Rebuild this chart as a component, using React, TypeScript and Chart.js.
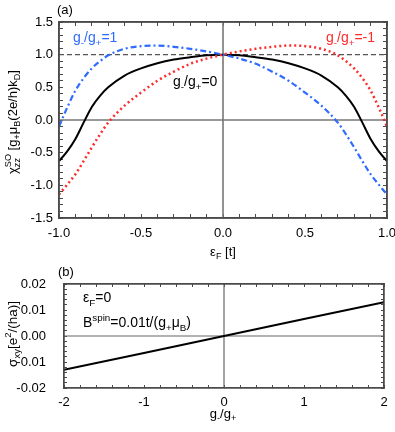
import React, { useEffect, useRef } from 'react';
import { Chart, registerables } from 'chart.js';
Chart.register(...registerables);

const FONT = '"Liberation Sans", Arial, Helvetica, sans-serif';

// ---- panel (a) data ----
const epsF = [-1, -0.95, -0.9, -0.85, -0.8, -0.75, -0.7, -0.6, -0.5, -0.4, -0.3, -0.2, -0.1, 0,
  0.1, 0.2, 0.3, 0.4, 0.5, 0.6, 0.7, 0.75, 0.8, 0.85, 0.9, 0.95, 1];
const chiRatio0 = [-0.63, -0.48, -0.29, -0.04, 0.2, 0.37, 0.5, 0.68, 0.79, 0.87, 0.925, 0.96, 0.99, 1.0,
  0.99, 0.96, 0.925, 0.87, 0.79, 0.68, 0.5, 0.37, 0.2, -0.04, -0.29, -0.48, -0.63];
const chiRatioP1 = [-0.1, 0.19, 0.45, 0.64, 0.79, 0.9, 0.99, 1.09, 1.13, 1.14, 1.12, 1.09, 1.05, 1.0,
  0.94, 0.86, 0.74, 0.6, 0.42, 0.22, -0.04, -0.22, -0.42, -0.63, -0.83, -0.99, -1.14];
const chiRatioM1 = [-1.14, -0.99, -0.83, -0.63, -0.42, -0.22, -0.04, 0.22, 0.42, 0.6, 0.74, 0.86, 0.94, 1.0,
  1.05, 1.09, 1.12, 1.14, 1.13, 1.09, 0.99, 0.9, 0.79, 0.64, 0.45, 0.19, -0.1];
const chiRefLevel = 1.0;

// ---- panel (b) data ----
const gRatio = [-2, -1, 0, 1, 2];
const sigmaXY = [-0.013, -0.0065, 0, 0.0065, 0.013];

const BLUE = '#2f6bff';
const RED = '#ff2b2b';
const FRAME = '#4a4a4a';

type RichSeg = { t?: string; sub?: string; sup?: string };

function richWidth(ctx: CanvasRenderingContext2D, segs: RichSeg[], size: number) {
  let w = 0;
  for (const s of segs) {
    ctx.font = `${size}px ${FONT}`;
    if (s.t) w += ctx.measureText(s.t).width;
    ctx.font = `${size * 0.7}px ${FONT}`;
    const ws = s.sub ? ctx.measureText(s.sub).width : 0;
    const wp = s.sup ? ctx.measureText(s.sup).width : 0;
    w += Math.max(ws, wp);
  }
  return w;
}

function drawRich(ctx: CanvasRenderingContext2D, segs: RichSeg[], x: number, y: number, size: number,
  color: string, align: 'left' | 'center' = 'left', rot = 0) {
  ctx.save();
  ctx.translate(x, y);
  ctx.rotate(rot);
  const w = richWidth(ctx, segs, size);
  let cx = align === 'center' ? -w / 2 : 0;
  const base = size * 0.36;
  ctx.fillStyle = color;
  ctx.textBaseline = 'alphabetic';
  ctx.textAlign = 'left';
  for (const s of segs) {
    if (s.t) {
      ctx.font = `${size}px ${FONT}`;
      ctx.fillText(s.t, cx, base);
      cx += ctx.measureText(s.t).width;
    }
    ctx.font = `${size * 0.7}px ${FONT}`;
    let adv = 0;
    if (s.sub) { ctx.fillText(s.sub, cx, base + size * 0.25); adv = ctx.measureText(s.sub).width; }
    if (s.sup) { ctx.fillText(s.sup, cx, base - size * 0.42); adv = Math.max(adv, ctx.measureText(s.sup).width); }
    cx += adv;
  }
  ctx.restore();
}

function line(ctx: CanvasRenderingContext2D, x1: number, y1: number, x2: number, y2: number) {
  ctx.beginPath();
  ctx.moveTo(x1, y1);
  ctx.lineTo(x2, y2);
  ctx.stroke();
}

const isMult = (v: number, m: number) => Math.abs(v / m - Math.round(v / m)) < 1e-6;

function drawBox(chart: any, lw: number) {
  const { ctx, chartArea } = chart;
  ctx.save();
  ctx.setLineDash([]);
  ctx.strokeStyle = FRAME;
  ctx.lineWidth = lw;
  ctx.strokeRect(chartArea.left, chartArea.top, chartArea.right - chartArea.left, chartArea.bottom - chartArea.top);
  ctx.restore();
}

const topDecor = {
  id: 'topDecor',
  beforeDatasetsDraw(chart: any) {
    const { ctx, chartArea: a, scales: { x, y } } = chart;
    ctx.save();
    ctx.strokeStyle = '#777';
    ctx.lineWidth = 1.6;
    const y0 = y.getPixelForValue(0);
    const x0 = x.getPixelForValue(0);
    line(ctx, a.left, y0, a.right, y0);
    line(ctx, x0, a.top, x0, a.bottom);
    ctx.setLineDash([5, 3]);
    ctx.strokeStyle = '#555';
    ctx.lineWidth = 1.2;
    const y1 = y.getPixelForValue(chiRefLevel);
    line(ctx, a.left, y1, a.right, y1);
    ctx.restore();
  },
  afterDraw(chart: any) {
    drawBox(chart, 1.5);
    const ctx = chart.ctx;
    drawRich(ctx, [{ t: '(a)' }], 57, 9, 13, '#000');
    drawRich(ctx, [{ t: 'g', sub: '-' }, { t: '/g', sub: '+' }, { t: '=1' }], 73, 37, 14, BLUE);
    drawRich(ctx, [{ t: 'g', sub: '-' }, { t: '/g', sub: '+' }, { t: '=-1' }], 326, 37, 14, RED);
    drawRich(ctx, [{ t: 'g', sub: '-' }, { t: '/g', sub: '+' }, { t: '=0' }], 173, 81, 14, '#000');
    drawRich(ctx, [{ t: 'ε', sub: 'F' }, { t: ' [t]' }], 223, 251, 13, '#000', 'center');
    drawRich(ctx, [{ t: 'χ', sub: 'zz', sup: 'SO' }, { t: ' [g', sub: '+' }, { t: 'μ', sub: 'B' },
      { t: '(2e/h)k', sub: 'D' }, { t: ']' }], 12, 122, 13, '#000', 'center', -Math.PI / 2);
  },
};

const bottomDecor = {
  id: 'bottomDecor',
  beforeDatasetsDraw(chart: any) {
    const { ctx, chartArea: a, scales: { x, y } } = chart;
    ctx.save();
    ctx.strokeStyle = '#666';
    ctx.lineWidth = 1.2;
    const y0 = y.getPixelForValue(0);
    const x0 = x.getPixelForValue(0);
    line(ctx, a.left, y0, a.right, y0);
    line(ctx, x0, a.top, x0, a.bottom);
    ctx.restore();
  },
  afterDraw(chart: any) {
    drawBox(chart, 1.3);
    const ctx = chart.ctx;
    drawRich(ctx, [{ t: '(b)' }], 58, 9, 13, '#000');
    drawRich(ctx, [{ t: 'ε', sub: 'F' }, { t: '=0' }], 83, 35, 14, '#000');
    drawRich(ctx, [{ t: 'B', sup: 'spin' }, { t: '=0.01t/(g', sub: '+' }, { t: 'μ', sub: 'B' }, { t: ')' }], 83, 60, 14, '#000');
    drawRich(ctx, [{ t: 'g', sub: '-' }, { t: '/g', sub: '+' }], 223, 151, 13, '#000', 'center');
    drawRich(ctx, [{ t: 'σ', sub: 'xy' }, { t: '[e', sup: '2' }, { t: '/(ha)]' }], 12, 72, 13.5, '#000', 'center', -Math.PI / 2);
  },
};

const tickFont = { family: FONT, size: 13 };

// axis builder: frame border + inward tick marks at every (minor) step, labels on major steps only
function axis(pos: string, min: number, max: number, step: number, major: number, fmt: (v: number) => string,
  pad: number, size: number, labels: boolean, tl: number, bw: number) {
  const horiz = pos === 'top' || pos === 'bottom';
  return {
    type: 'linear', position: pos, axis: horiz ? 'x' : 'y', min, max,
    grid: { display: true, drawOnChartArea: false, drawTicks: true, tickLength: -tl, tickColor: FRAME, tickWidth: 1 },
    border: { display: true, color: FRAME, width: bw },
    ticks: {
      display: labels, stepSize: step, padding: pad + tl, font: tickFont, color: '#000', maxRotation: 0, autoSkip: false,
      callback: (v: any) => (isMult(Number(v), major) ? fmt(Number(v)) : ''),
    },
    afterFit: (s: any) => {
      if (horiz) s.height = size; else s.width = size;
      s.paddingLeft = 0; s.paddingRight = 0; s.paddingTop = 0; s.paddingBottom = 0;
    },
  };
}

function TopChart() {
  const ref = useRef<HTMLCanvasElement>(null);
  useEffect(() => {
    const pts = (ys: number[]) => epsF.map((e, i) => ({ x: e, y: ys[i] }));
    const f1 = (v: number) => v.toFixed(1).replace('-0.0', '0.0');
    const chart = new Chart(ref.current!, {
      type: 'line',
      data: {
        datasets: [
          { data: pts(chiRatioP1), xAxisID: 'x', yAxisID: 'y', borderColor: BLUE, borderWidth: 2.2, borderDash: [6, 3, 2, 3], cubicInterpolationMode: 'monotone' },
          { data: pts(chiRatioM1), xAxisID: 'x', yAxisID: 'y', borderColor: RED, borderWidth: 2.5, borderDash: [2, 3], cubicInterpolationMode: 'monotone' },
          { data: pts(chiRatio0), xAxisID: 'x', yAxisID: 'y', borderColor: '#000', borderWidth: 2, cubicInterpolationMode: 'monotone' },
        ],
      },
      options: {
        responsive: false,
        animation: false,
        layout: { padding: { top: 22, right: 8, left: 0, bottom: 0 } },
        plugins: { legend: { display: false }, tooltip: { enabled: false } },
        elements: { point: { radius: 0 } },
        scales: {
          x: axis('bottom', -1, 1, 0.1, 0.5, f1, 8, 44, true, 4, 1.5),
          y: axis('left', -1.5, 1.5, 0.1, 0.5, f1, 6, 59, true, 4, 1.5),
          x2: axis('top', -1, 1, 0.1, 0.5, f1, 0, 0, false, 4, 1.5),
          y2: axis('right', -1.5, 1.5, 0.1, 0.5, f1, 0, 0, false, 4, 1.5),
        },
      },
      plugins: [topDecor],
    } as any);
    return () => chart.destroy();
  }, []);
  return <canvas ref={ref} width={395} height={262} style={{ position: 'absolute', left: 0, top: 0, width: 395, height: 262 }} />;
}

function BottomChart() {
  const ref = useRef<HTMLCanvasElement>(null);
  useEffect(() => {
    const fi = (v: number) => String(Math.round(v));
    const f2 = (v: number) => v.toFixed(2).replace('-0.00', '0.00');
    const chart = new Chart(ref.current!, {
      type: 'line',
      data: {
        datasets: [
          { data: gRatio.map((g, i) => ({ x: g, y: sigmaXY[i] })), xAxisID: 'x', yAxisID: 'y', borderColor: '#000', borderWidth: 2 },
        ],
      },
      options: {
        responsive: false,
        animation: false,
        layout: { padding: { top: 22, right: 11, left: 0, bottom: 0 } },
        plugins: { legend: { display: false }, tooltip: { enabled: false } },
        elements: { point: { radius: 0 } },
        scales: {
          x: axis('bottom', -2, 2, 0.2, 1, fi, 7, 44, true, 3, 1.3),
          y: axis('left', -0.02, 0.02, 0.002, 0.01, f2, 18, 64, true, 3, 1.3),
          x2: axis('top', -2, 2, 0.2, 1, fi, 0, 0, false, 3, 1.3),
          y2: axis('right', -0.02, 0.02, 0.002, 0.01, f2, 0, 0, false, 3, 1.3),
        },
      },
      plugins: [bottomDecor],
    } as any);
    return () => chart.destroy();
  }, []);
  return <canvas ref={ref} width={395} height={170} style={{ position: 'absolute', left: 0, top: 262, width: 395, height: 170 }} />;
}

export default function App() {
  return (
    <div style={{ position: 'absolute', left: 0, top: 0, width: 395, height: 432, background: '#fff' }}>
      <TopChart />
      <BottomChart />
    </div>
  );
}
